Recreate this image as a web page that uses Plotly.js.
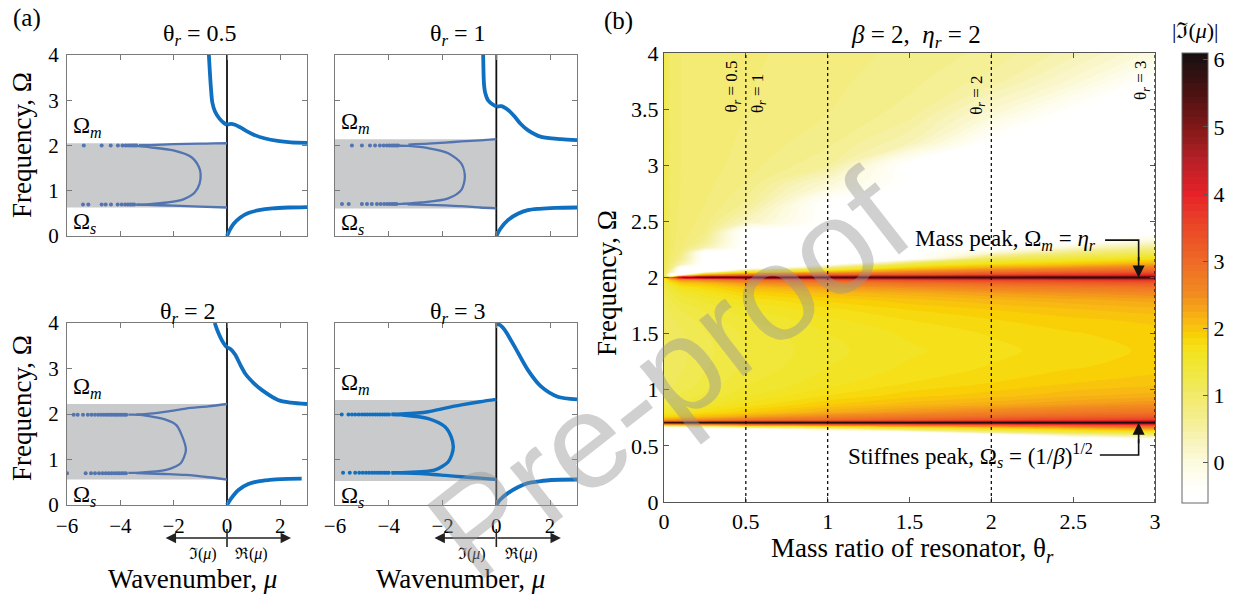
<!DOCTYPE html>
<html>
<head>
<meta charset="utf-8">
<script src="https://cdn.plot.ly/plotly-3.0.1.min.js"></script>
<style>
html,body{margin:0;padding:0;background:#ffffff;}
#chart{width:1234px;height:599px;}
</style>
</head>
<body>
<div id="chart"></div>
<script>
// ======================= DATA : panel (a) =======================
const panelTheta = ['0.5', '1', '2', '3'];
const gapLower = [0.63, 0.61, 0.56, 0.53];
const gapUpper = [2.05, 2.14, 2.22, 2.31];
const muTicks = [-6, -4, -2, 0, 2];
const omegaTicksA = [0, 1, 2, 3, 4];

// theta_r = 0.5
const p1ReUpMu = [0, 0.15, 0.3, 0.5, 0.7, 1.0, 1.4, 1.9, 2.4, 3.0];
const p1ReUpOm = [2.46, 2.48, 2.46, 2.4, 2.33, 2.24, 2.16, 2.1, 2.07, 2.06];
const p1ReLoMu = [0, 0.1, 0.25, 0.5, 0.8, 1.2, 1.7, 2.3, 3.0];
const p1ReLoOm = [0, 0.13, 0.27, 0.41, 0.51, 0.57, 0.61, 0.63, 0.64];
const p1ImUpMu = [0, -0.12, -0.29, -0.45, -0.55, -0.6, -0.64, -0.68];
const p1ImUpOm = [2.46, 2.5, 2.6, 2.75, 2.95, 3.25, 3.6, 4.0];
const p1GapUpMu = [0, -0.5, -1.03, -2.01, -2.88, -3.3];
const p1GapUpOm = [2.05, 2.045, 2.04, 2.03, 2.01, 2.005];
const p1GapUMu = [-3.4, -2.88, -2.01, -1.33, -1.05, -0.99, -1.03, -1.21, -1.64, -2.26, -3.0, -3.4];
const p1GapUOm = [1.99, 1.96, 1.89, 1.74, 1.52, 1.37, 1.15, 0.96, 0.81, 0.74, 0.7, 0.695];
const p1GapLoMu = [0, -1.03, -2.01, -3.0, -3.4];
const p1GapLoOm = [0.63, 0.65, 0.67, 0.69, 0.695];
const p1DotUpMu = [-5.37, -4.7, -4.36, -4.09, -3.92, -3.8, -3.7, -3.61, -3.53, -3.46, -3.4];
const p1DotLoMu = [-5.4, -5.2, -4.7, -4.55, -4.35, -4.1, -3.95, -3.82, -3.72, -3.63, -3.55, -3.48];

// theta_r = 1
const p2ReUpMu = [0, 0.19, 0.45, 0.68, 0.9, 1.17, 1.67, 2.41, 3.0];
const p2ReUpOm = [2.86, 2.87, 2.78, 2.64, 2.48, 2.34, 2.19, 2.14, 2.12];
const p2ReLoMu = [0, 0.15, 0.43, 0.8, 1.17, 1.6, 2.2, 3.0];
const p2ReLoOm = [0, 0.16, 0.35, 0.49, 0.57, 0.6, 0.62, 0.63];
const p2ImUpMu = [0, -0.12, -0.31, -0.42, -0.46, -0.48, -0.49];
const p2ImUpOm = [2.86, 2.9, 3.0, 3.18, 3.37, 3.7, 4.0];
const p2GapUpMu = [0, -0.6, -1.3, -1.9, -2.53, -3.27];
const p2GapUpOm = [2.14, 2.115, 2.09, 2.065, 2.04, 2.02];
const p2GapUMu = [-3.6, -3.27, -2.53, -1.79, -1.3, -1.17, -1.3, -1.79, -2.78, -3.52, -3.7];
const p2GapUOm = [1.995, 1.99, 1.94, 1.83, 1.6, 1.31, 1.02, 0.83, 0.74, 0.71, 0.705];
const p2GapLoMu = [0, -0.6, -1.3, -1.9, -2.53, -3.3];
const p2GapLoOm = [0.61, 0.63, 0.66, 0.675, 0.69, 0.7];
const p2DotUpMu = [-5.37, -5.0, -4.7, -4.51, -4.33, -4.19, -4.07, -3.97, -3.88, -3.8, -3.72, -3.65];
const p2DotLoMu = [-5.74, -5.49, -5.0, -4.81, -4.63, -4.44, -4.3, -4.17, -4.06, -3.96, -3.87, -3.79, -3.72];

// theta_r = 2
const p3ReUpMu = [0, 0.15, 0.31, 0.5, 0.68, 1.0, 1.3, 1.91, 2.4, 3.0];
const p3ReUpOm = [3.46, 3.42, 3.3, 3.08, 2.89, 2.68, 2.53, 2.31, 2.25, 2.22];
const p3ReLoMu = [0, 0.15, 0.43, 0.8, 1.17, 1.6, 2.03, 2.8];
const p3ReLoOm = [0, 0.14, 0.33, 0.46, 0.52, 0.55, 0.57, 0.58];
const p3ImUpMu = [0, -0.12, -0.22, -0.37, -0.46];
const p3ImUpOm = [3.46, 3.55, 3.65, 3.85, 4.0];
const p3GapUpMu = [0, -0.7, -1.54, -2.2, -2.9, -3.4];
const p3GapUpOm = [2.22, 2.17, 2.12, 2.06, 2.01, 1.99];
const p3GapUMu = [-3.7, -3.27, -2.28, -1.91, -1.73, -1.54, -1.73, -1.95, -2.28, -3.27, -3.7];
const p3GapUOm = [1.985, 1.98, 1.87, 1.76, 1.58, 1.21, 0.92, 0.84, 0.77, 0.71, 0.705];
const p3GapLoMu = [0, -0.7, -1.54, -2.2, -2.9, -3.4];
const p3GapLoOm = [0.56, 0.61, 0.66, 0.68, 0.69, 0.7];
const p3DotUpMu = [-5.75, -5.6, -5.4, -5.22, -5.08, -4.95, -4.83, -4.72, -4.62, -4.52, -4.43, -4.34, -4.25, -4.17, -4.09, -4.01, -3.93, -3.85, -3.78];
const p3DotLoMu = [-6.0, -5.3, -5.1, -4.95, -4.8, -4.67, -4.55, -4.44, -4.33, -4.23, -4.13, -4.04, -3.95, -3.87, -3.79];

// theta_r = 3
const p4ReUpMu = [0, 0.15, 0.31, 0.68, 1.17, 1.67, 2.28, 3.0];
const p4ReUpOm = [3.99, 3.95, 3.85, 3.48, 2.97, 2.6, 2.38, 2.32];
const p4ReLoMu = [0, 0.15, 0.43, 0.8, 1.17, 1.6, 2.04, 3.0];
const p4ReLoOm = [0, 0.12, 0.26, 0.39, 0.48, 0.52, 0.55, 0.56];
const p4ImUpMu = [];
const p4ImUpOm = [];
const p4GapUpMu = [0, -0.6, -1.3, -1.9, -2.53, -3.52, -3.9];
const p4GapUpOm = [2.32, 2.27, 2.2, 2.13, 2.05, 2.0, 1.995];
const p4GapUMu = [-3.9, -3.52, -2.53, -1.91, -1.68, -1.6, -1.66, -1.79, -2.28, -3.52, -3.9];
const p4GapUOm = [1.99, 1.98, 1.9, 1.72, 1.5, 1.28, 1.1, 0.95, 0.77, 0.71, 0.705];
const p4GapLoMu = [0, -0.6, -1.3, -1.9, -2.53, -3.52, -3.9];
const p4GapLoOm = [0.56, 0.59, 0.62, 0.65, 0.68, 0.71, 0.71];
const p4DotUpMu = [-5.75, -5.5, -5.37, -5.25, -5.12, -5.0, -4.9, -4.8, -4.7, -4.6, -4.5, -4.41, -4.32, -4.23, -4.15, -4.07, -3.99];
const p4DotLoMu = [-5.7, -5.45, -5.25, -5.1, -4.97, -4.85, -4.74, -4.63, -4.53, -4.43, -4.34, -4.25, -4.16, -4.08, -4.0];

const dotUpOmega = [2.0, 2.0, 1.985, 1.99];
const dotLoOmega = [0.695, 0.705, 0.7, 0.71];

// ======================= DATA : panel (b) =======================
// pass bands are stored at -0.5 (drawn white, below the 0 level of the colour bar)
const thetaGrid = [0, 0.04, 0.1, 0.25, 0.5, 1, 1.5, 2, 2.5, 3];
const omegaGrid = [0, 0.4, 0.55, 0.57, 0.6, 0.62, 0.65, 0.67,
  0.685, 0.697, 0.707, 0.717, 0.73,
  0.76, 0.8, 0.87, 0.95, 1.05, 1.2, 1.35, 1.5, 1.62, 1.72, 1.8, 1.86,
  1.91, 1.95, 1.975, 1.99, 2.0, 2.01, 2.025,
  2.05, 2.08, 2.12, 2.17, 2.22, 2.27, 2.32, 2.4,
  2.5, 2.65, 2.83, 3.0, 3.2, 3.46, 3.74, 4.0];
const imMuTheta0 = [-0.5,-0.5,-0.5,-0.5,-0.5,-0.5,-0.5,-0.5,
  1.9,2.9,5.8,3.0,2.4,
  1.82,1.52,1.3,1.17,1.09,1.06,1.05,1.06,1.08,1.13,1.19,1.25,
  1.32,1.4,1.5,1.65,1.85,1.45,1.3,
  1.25,1.25,1.25,1.25,1.25,1.25,1.25,1.25,
  1.25,1.25,1.25,1.25,1.25,1.25,1.25,1.25];
const imMuTheta004 = [-0.5,-0.5,-0.5,-0.5,-0.5,-0.5,-0.5,0.05,
  1.95,2.95,5.9,3.05,2.45,
  1.85,1.55,1.33,1.2,1.12,1.09,1.08,1.09,1.12,1.18,1.26,1.34,
  1.45,1.65,1.95,2.45,3.2,-0.5,-0.5,
  0.45,0.75,0.88,0.95,0.98,1.0,1.0,1.0,
  1.0,1.0,1.0,1.0,1.0,1.0,1.0,1.0];
const imMuTheta01 = [-0.5,-0.5,-0.5,-0.5,-0.5,-0.5,-0.5,0.1,
  2.0,3.0,6.0,3.1,2.5,
  1.9,1.6,1.38,1.26,1.18,1.13,1.12,1.13,1.18,1.26,1.36,1.48,
  1.65,1.95,2.35,3.0,5.0,2.2,-0.5,
  -0.5,-0.5,0.4,0.7,0.82,0.87,0.9,0.92,
  0.93,0.94,0.95,0.95,0.95,0.95,0.95,0.95];
const imMuTheta025 = [-0.5,-0.5,-0.5,-0.5,-0.5,-0.5,-0.5,0.4,
  2.2,3.2,6.2,3.3,2.6,
  2.08,1.75,1.5,1.37,1.29,1.24,1.22,1.24,1.29,1.37,1.49,1.63,
  1.8,2.1,2.55,3.4,6.2,3.3,2.2,
  -0.5,-0.5,-0.5,-0.5,-0.5,0.4,0.62,0.74,
  0.8,0.85,0.88,0.9,0.9,0.9,0.9,0.9];
const imMuTheta05 = [-0.5,-0.5,-0.5,-0.5,-0.5,-0.5,-0.5,1.0,
  2.5,3.5,6.3,3.6,2.8,
  2.3,1.92,1.68,1.53,1.44,1.37,1.35,1.37,1.44,1.54,1.68,1.85,
  2.08,2.42,2.85,3.8,6.3,3.8,2.7,
  1.5,-0.5,-0.5,-0.5,-0.5,-0.5,-0.5,-0.5,
  0.3,0.62,0.74,0.8,0.83,0.85,0.86,0.87];
const imMuTheta1 = [-0.5,-0.5,-0.5,-0.5,-0.5,-0.5,0.3,1.6,
  2.7,3.7,6.3,3.8,3.0,
  2.6,2.22,1.93,1.75,1.62,1.55,1.52,1.55,1.62,1.73,1.88,2.08,
  2.35,2.7,3.15,4.1,6.3,4.1,3.1,
  2.1,1.1,-0.5,-0.5,-0.5,-0.5,-0.5,-0.5,
  -0.5,-0.5,0.1,0.55,0.68,0.75,0.78,0.8];
const imMuTheta15 = [-0.5,-0.5,-0.5,-0.5,-0.5,-0.5,1.2,2.0,
  2.9,3.9,6.3,4.0,3.2,
  2.8,2.42,2.1,1.9,1.76,1.67,1.63,1.67,1.75,1.86,2.02,2.22,
  2.5,2.9,3.35,4.3,6.3,4.3,3.3,
  2.6,2.0,1.25,-0.5,-0.5,-0.5,-0.5,-0.5,
  -0.5,-0.5,-0.5,-0.5,0.35,0.6,0.68,0.72];
const imMuTheta2 = [-0.5,-0.5,-0.5,-0.5,-0.5,0.6,1.6,2.3,
  3.1,4.1,6.3,4.2,3.4,
  2.95,2.6,2.22,2.0,1.86,1.76,1.72,1.76,1.84,1.96,2.13,2.35,
  2.65,3.05,3.5,4.5,6.3,4.5,3.5,
  2.9,2.35,1.75,1.08,0.1,-0.5,-0.5,-0.5,
  -0.5,-0.5,-0.5,-0.5,-0.5,0.1,0.5,0.62];
const imMuTheta25 = [-0.5,-0.5,-0.5,-0.5,0.5,1.2,2.0,2.6,
  3.3,4.3,6.3,4.4,3.55,
  3.1,2.75,2.35,2.12,1.96,1.84,1.8,1.84,1.92,2.05,2.22,2.45,
  2.75,3.15,3.6,4.6,6.3,4.6,3.7,
  3.1,2.6,2.0,1.42,0.85,0.1,-0.5,-0.5,
  -0.5,-0.5,-0.5,-0.5,-0.5,-0.5,0.1,0.4];
const imMuTheta3 = [-0.5,-0.5,-0.5,0,0.9,1.5,2.3,2.9,
  3.5,4.5,6.3,4.6,3.7,
  3.2,2.85,2.45,2.2,2.02,1.9,1.87,1.9,1.98,2.12,2.3,2.55,
  2.85,3.25,3.7,4.7,6.3,4.7,3.9,
  3.3,2.85,2.25,1.68,1.15,0.65,0.1,-0.5,
  -0.5,-0.5,-0.5,-0.5,-0.5,-0.5,-0.5,0];
const thetaMarks = [0.5, 1, 2, 3];
const colorTicks = [0, 1, 2, 3, 4, 5, 6];

// ======================= STYLE =======================
const W = 1234, H = 599;
const px = v => v / W;
const py = v => 1 - v / H;
const SERIF = 'Liberation Serif, Times New Roman, serif';
const BLUE = '#0f6fc0';
const GAPBLUE = '#5274b0';
const AXC = '#7a7a7a';

const panels = [
  {reUpMu:p1ReUpMu, reUpOm:p1ReUpOm, reLoMu:p1ReLoMu, reLoOm:p1ReLoOm, imUpMu:p1ImUpMu, imUpOm:p1ImUpOm,
   gUpMu:p1GapUpMu, gUpOm:p1GapUpOm, gUMu:p1GapUMu, gUOm:p1GapUOm, gLoMu:p1GapLoMu, gLoOm:p1GapLoOm, dUp:p1DotUpMu, dLo:p1DotLoMu},
  {reUpMu:p2ReUpMu, reUpOm:p2ReUpOm, reLoMu:p2ReLoMu, reLoOm:p2ReLoOm, imUpMu:p2ImUpMu, imUpOm:p2ImUpOm,
   gUpMu:p2GapUpMu, gUpOm:p2GapUpOm, gUMu:p2GapUMu, gUOm:p2GapUOm, gLoMu:p2GapLoMu, gLoOm:p2GapLoOm, dUp:p2DotUpMu, dLo:p2DotLoMu},
  {reUpMu:p3ReUpMu, reUpOm:p3ReUpOm, reLoMu:p3ReLoMu, reLoOm:p3ReLoOm, imUpMu:p3ImUpMu, imUpOm:p3ImUpOm,
   gUpMu:p3GapUpMu, gUpOm:p3GapUpOm, gUMu:p3GapUMu, gUOm:p3GapUOm, gLoMu:p3GapLoMu, gLoOm:p3GapLoOm, dUp:p3DotUpMu, dLo:p3DotLoMu},
  {reUpMu:p4ReUpMu, reUpOm:p4ReUpOm, reLoMu:p4ReLoMu, reLoOm:p4ReLoOm, imUpMu:p4ImUpMu, imUpOm:p4ImUpOm,
   gUpMu:p4GapUpMu, gUpOm:p4GapUpOm, gUMu:p4GapUMu, gUOm:p4GapUOm, gLoMu:p4GapLoMu, gLoOm:p4GapLoOm, dUp:p4DotUpMu, dLo:p4DotLoMu}
];

const boxes = [
  {x0:67, x1:307, y0:55, y1:236},
  {x0:335, x1:577, y0:55, y1:236},
  {x0:67, x1:307, y0:323, y1:505},
  {x0:335, x1:577, y0:323, y1:505}
];
const boxB = {x0:664, x1:1155, y0:53, y1:502};

const traces = [];
const shapes = [];
const annotations = [];
const layout = {
  width: W, height: H,
  margin: {l:0, r:0, t:0, b:0},
  paper_bgcolor: '#ffffff', plot_bgcolor: 'rgba(0,0,0,0)',
  showlegend: false, hovermode: false,
  font: {family: SERIF, color: '#000'}
};
const tf = size => ({family: SERIF, size: size, color: '#000'});

panels.forEach((d, i) => {
  const n = i === 0 ? '' : String(i + 1);
  const xa = 'x' + n, ya = 'y' + n;
  const b = boxes[i];
  layout['xaxis' + n] = {
    domain: [px(b.x0), px(b.x1)], range: [-6, 3], anchor: ya,
    tickvals: muTicks, showticklabels: i >= 2, ticks: 'inside', ticklen: 5, ticklabelstandoff: 2,
    tickcolor: AXC, mirror: 'allticks', showline: true, linecolor: AXC, linewidth: 1,
    showgrid: false, zeroline: false, fixedrange: true, tickfont: tf(21)
  };
  layout['yaxis' + n] = {
    domain: [py(b.y1), py(b.y0)], range: [0, 4], anchor: xa,
    tickvals: omegaTicksA, showticklabels: i % 2 === 0, ticks: 'inside', ticklen: 5, ticklabelstandoff: 3,
    tickcolor: AXC, mirror: 'allticks', showline: true, linecolor: AXC, linewidth: 1,
    showgrid: false, zeroline: false, fixedrange: true, tickfont: tf(21)
  };
  shapes.push({type:'rect', xref:xa, yref:ya, x0:-6, x1:0, y0:gapLower[i], y1:gapUpper[i],
    fillcolor:'#c9cacc', line:{width:0}, layer:'below'});
  shapes.push({type:'line', xref:xa, yref:ya, x0:0, x1:0, y0:0, y1:4,
    line:{color:'#111', width:1.8}, layer:'below'});

  const gc = i === 3 ? BLUE : GAPBLUE;
  const gw = i === 3 ? 3.4 : 2.3;
  [[d.gUpMu, d.gUpOm], [d.gUMu, d.gUOm], [d.gLoMu, d.gLoOm]].forEach(([mx, my]) => {
    traces.push({type:'scatter', mode:'lines', x:mx, y:my, xaxis:xa, yaxis:ya,
      line:{color:gc, width:gw, shape:'spline', smoothing:0.8}, hoverinfo:'skip'});
  });
  traces.push({type:'scatter', mode:'markers', x:d.dUp, y:d.dUp.map(() => dotUpOmega[i]), xaxis:xa, yaxis:ya,
    marker:{color:gc, size:4}, hoverinfo:'skip'});
  traces.push({type:'scatter', mode:'markers', x:d.dLo, y:d.dLo.map(() => dotLoOmega[i]), xaxis:xa, yaxis:ya,
    marker:{color:gc, size:4}, hoverinfo:'skip'});
  [[d.reUpMu, d.reUpOm], [d.reLoMu, d.reLoOm], [d.imUpMu, d.imUpOm]].forEach(([mx, my]) => {
    traces.push({type:'scatter', mode:'lines', x:mx, y:my, xaxis:xa, yaxis:ya,
      line:{color:BLUE, width:3.8, shape:'spline', smoothing:0.8}, hoverinfo:'skip'});
  });

  annotations.push({xref:xa, yref:ya, x:-5.85, y:gapUpper[i], xanchor:'left', yanchor:'bottom',
    text:'Ω<sub><i>m</i></sub>', showarrow:false, font:tf(23)});
  annotations.push({xref:xa, yref:ya, x:-5.85, y:gapLower[i], xanchor:'left', yanchor:'top',
    text:'Ω<sub><i>s</i></sub>', showarrow:false, font:tf(23)});
  const titleX = [200, 458, 188, 458][i];
  const titleY = [35, 35, 313, 313][i];
  annotations.push({xref:'paper', yref:'paper', x:px(titleX), y:py(titleY), xanchor:'center', yanchor:'middle',
    text:'θ<sub><i>r</i></sub> = ' + panelTheta[i], showarrow:false, font:tf(24)});

  if (i >= 2) {
    const arrY = py(538);
    annotations.push({xref:xa, yref:'paper', x:-2.3, y:arrY, axref:'pixel', ayref:'pixel', ax:62, ay:0,
      text:'', showarrow:true, arrowhead:2, arrowsize:1.3, arrowwidth:1.6, arrowcolor:'#222', standoff:0});
    annotations.push({xref:xa, yref:'paper', x:2.4, y:arrY, axref:'pixel', ayref:'pixel', ax:-65, ay:0,
      text:'', showarrow:true, arrowhead:2, arrowsize:1.3, arrowwidth:1.6, arrowcolor:'#222', standoff:0});
    shapes.push({type:'line', xref:xa, yref:'paper', x0:0, x1:0, y0:py(547), y1:py(529),
      line:{color:'#222', width:1.6}});
    annotations.push({xref:xa, yref:'paper', x:-0.9, y:py(554), xanchor:'center', yanchor:'middle',
      text:'ℑ(<i>μ</i>)', showarrow:false, font:tf(16)});
    annotations.push({xref:xa, yref:'paper', x:0.92, y:py(554), xanchor:'center', yanchor:'middle',
      text:'ℜ(<i>μ</i>)', showarrow:false, font:tf(16)});
    annotations.push({xref:'paper', yref:'paper', x:px(i === 2 ? 192 : 460), y:py(579), xanchor:'center', yanchor:'middle',
      text:'Wavenumber, <i>μ</i>', showarrow:false, font:tf(27)});
  }
  if (i % 2 === 0) {
    annotations.push({xref:'paper', yref:'paper', x:px(22), y:py(i === 0 ? 145 : 408), textangle:-90,
      xanchor:'center', yanchor:'middle', text:'Frequency, Ω', showarrow:false, font:tf(27)});
  }
});

// ---------------- panel (b) ----------------
const BX = '#555555';
layout.xaxis5 = {
  domain: [px(boxB.x0), px(boxB.x1)], range: [0, 3], anchor: 'y5', dtick: 0.5,
  ticks: 'inside', ticklen: 5, tickcolor: BX, mirror: 'allticks', showline: true, linecolor: BX, linewidth: 1,
  showgrid: false, zeroline: false, fixedrange: true, layer: 'above traces', tickfont: tf(22)
};
layout.yaxis5 = {
  domain: [py(boxB.y1), py(boxB.y0)], range: [0, 4], anchor: 'x5', dtick: 0.5,
  ticks: 'inside', ticklen: 5, tickcolor: BX, mirror: 'allticks', showline: true, linecolor: BX, linewidth: 1,
  showgrid: false, zeroline: false, fixedrange: true, layer: 'above traces', tickfont: tf(22)
};

const zmin = -0.6, zmax = 6.1;
const cpos = v => (v - zmin) / (zmax - zmin);
const colorscale = [
  [0, '#ffffff'], [cpos(-0.5), '#ffffff'], [cpos(-0.25), '#fffef4'], [cpos(0), '#fcfadf'],
  [cpos(0.25), '#f9f5c4'], [cpos(0.5), '#f6f0a2'], [cpos(0.75), '#f4ed84'], [cpos(1.0), '#f2ea6a'],
  [cpos(1.3), '#f0e844'], [cpos(1.55), '#f1e62a'], [cpos(1.75), '#f6de14'], [cpos(1.9), '#f9d006'],
  [cpos(2.1), '#f8ba12'], [cpos(2.5), '#f28c20'], [cpos(3.0), '#ee6a26'], [cpos(3.5), '#eb4828'],
  [cpos(4.0), '#e62228'], [cpos(4.5), '#b62026'], [cpos(5.0), '#801818'], [cpos(5.5), '#4c1212'],
  [1, '#151010']
];

traces.unshift({
  type: 'contour', x: thetaGrid, y: omegaGrid, transpose: true,
  z: [imMuTheta0, imMuTheta004, imMuTheta01, imMuTheta025, imMuTheta05, imMuTheta1, imMuTheta15, imMuTheta2, imMuTheta25, imMuTheta3],
  xaxis: 'x5', yaxis: 'y5', autocontour: false,
  contours: {coloring: 'fill', showlines: false, start: -0.55, end: 6.05, size: 0.1},
  line: {width: 0}, colorscale: colorscale, zmin: zmin, zmax: zmax, hoverinfo: 'skip',
  colorbar: {
    x: px(1182), xanchor: 'left', xpad: 0, y: py(53), yanchor: 'top', ypad: 0,
    len: 450 / H, lenmode: 'fraction', thickness: 26, thicknessmode: 'pixels',
    outlinewidth: 1, outlinecolor: '#666', ticks: 'inside', ticklen: 5, tickcolor: '#555',
    tickvals: colorTicks, tickfont: tf(22)
  }
});

thetaMarks.forEach(t => {
  shapes.push({type:'line', xref:'x5', yref:'y5', x0:t, x1:t, y0:0, y1:4,
    line:{color:'#111', width:1.3, dash:'dot'}});
});
const markLabels = [
  {t:0.5, text:'0.5', anchor:'right', bottom:3.45},
  {t:0.5, text:'1', anchor:'left', bottom:3.45},
  {t:2, text:'2', anchor:'right', bottom:3.43},
  {t:3, text:'3', anchor:'right', bottom:3.56}
];
markLabels.forEach(m => {
  annotations.push({xref:'x5', yref:'y5', x:m.t, y:m.bottom, xanchor:m.anchor, yanchor:'bottom',
    textangle:-90, text:'θ<sub><i>r</i></sub> = ' + m.text, showarrow:false, font:tf(17)});
});

shapes.push({type:'path', xref:'x5', yref:'y5', path:'M 2.695,2.333 H 2.9 V 2.15', line:{color:'#111', width:1.6}});
shapes.push({type:'path', xref:'x5', yref:'y5', path:'M 2.663,0.419 H 2.9 V 0.56', line:{color:'#111', width:1.6}});
annotations.push({xref:'x5', yref:'y5', x:2.9, y:2.0, axref:'pixel', ayref:'pixel', ax:0, ay:-22,
  text:'', showarrow:true, arrowhead:2, arrowsize:1.5, arrowwidth:1.6, arrowcolor:'#111', standoff:0});
annotations.push({xref:'x5', yref:'y5', x:2.9, y:0.707, axref:'pixel', ayref:'pixel', ax:0, ay:22,
  text:'', showarrow:true, arrowhead:2, arrowsize:1.5, arrowwidth:1.6, arrowcolor:'#111', standoff:0});
annotations.push({xref:'paper', yref:'paper', x:px(913), y:py(240), xanchor:'left', yanchor:'middle',
  text:'Mass peak, Ω<sub><i>m</i></sub> = <i>η</i><sub><i>r</i></sub>', showarrow:false, font:tf(23)});
annotations.push({xref:'paper', yref:'paper', x:px(846), y:py(455), xanchor:'left', yanchor:'middle',
  text:'Stiffnes peak, Ω<sub><i>s</i></sub> = (1/<i>β</i>)<sup>1/2</sup>', showarrow:false, font:tf(23)});

annotations.push({xref:'paper', yref:'paper', x:px(916), y:py(37), xanchor:'center', yanchor:'middle',
  text:'<i>β</i> = 2,  <i>η</i><sub><i>r</i></sub> = 2', showarrow:false, font:tf(25)});
annotations.push({xref:'paper', yref:'paper', x:px(912), y:py(550), xanchor:'center', yanchor:'middle',
  text:'Mass ratio of resonator, θ<sub><i>r</i></sub>', showarrow:false, font:tf(27)});
annotations.push({xref:'paper', yref:'paper', x:px(607), y:py(283), xanchor:'center', yanchor:'middle', textangle:-90,
  text:'Frequency, Ω', showarrow:false, font:tf(27)});
annotations.push({xref:'paper', yref:'paper', x:px(1195), y:py(30), xanchor:'center', yanchor:'middle',
  text:'|ℑ(<i>μ</i>)|', showarrow:false, font:tf(22)});
annotations.push({xref:'paper', yref:'paper', x:px(27), y:py(18), xanchor:'center', yanchor:'middle',
  text:'(a)', showarrow:false, font:tf(25)});
annotations.push({xref:'paper', yref:'paper', x:px(618), y:py(21), xanchor:'center', yanchor:'middle',
  text:'(b)', showarrow:false, font:tf(25)});

// watermark
annotations.push({xref:'paper', yref:'paper', x:px(668), y:py(375), xanchor:'center', yanchor:'middle',
  textangle:-38, text:'Pre-proof', showarrow:false,
  font:{family:'Liberation Sans, Arial, sans-serif', size:135, color:'rgba(150,150,150,0.45)'}});

layout.shapes = shapes;
layout.annotations = annotations;

Plotly.newPlot('chart', traces, layout, {displayModeBar:false, staticPlot:true});
</script>
</body>
</html>
